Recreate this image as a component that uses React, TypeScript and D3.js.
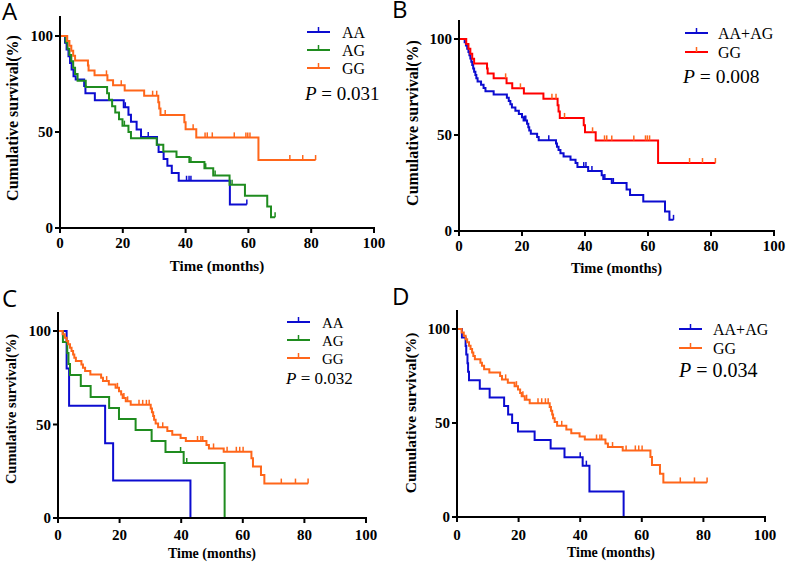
import React from 'react';
import * as d3 from 'd3';

type Step = [number, number];

// ---------- data ----------
const timeTicks = [0, 20, 40, 60, 80, 100];
const survTicks = [0, 50, 100];

// Panel A
const aAA: Step[] = [[1.6,96.5],[2.1,93.0],[2.7,89.5],[3.2,86.0],[3.7,82.5],[4.3,79.0],[5.0,77.4],[7.7,73.9],[8.1,70.2],[11.1,66.6],[20.3,62.9],[21.8,59.0],[22.6,55.3],[24.4,51.3],[25.8,47.4],[30.9,43.4],[31.4,39.6],[33.0,36.0],[34.2,32.4],[35.6,28.6],[37.8,24.6],[54.1,12.3]];
const aAACensor = [20.8, 28.1, 40.3, 41.1, 41.7, 59.5];
const aAG: Step[] = [[1.8,96.7],[2.4,93.4],[3.0,90.1],[3.6,86.8],[4.2,83.5],[4.8,80.2],[5.6,76.7],[8.2,73.5],[15.0,70.2],[15.6,66.8],[16.6,63.4],[17.6,60.1],[18.8,56.7],[19.9,53.3],[21.8,50.0],[22.6,46.7],[30.8,43.3],[32.9,39.9],[37.1,37.0],[41.2,34.4],[46.0,31.1],[48.8,27.4],[54.0,22.5],[58.9,16.8],[66.0,11.2],[67.2,5.6]];
const aAGCensor = [20.5, 41.7, 46.4, 49.4, 54.8, 68.5];
const aGG: Step[] = [[2.3,97.4],[3.0,94.9],[3.6,92.3],[4.2,89.7],[4.8,87.2],[8.9,84.6],[9.1,82.0],[11.0,79.5],[15.1,76.9],[16.9,74.3],[20.6,71.6],[26.8,68.9],[31.3,65.5],[31.6,62.2],[32.0,58.9],[39.6,55.1],[40.0,51.4],[43.4,47.2],[63.2,35.4]];
const aGGCensor = [14.8, 19.5, 29.5, 30.8, 33.5, 42.4, 46.2, 46.9, 48.5, 55.5, 59.2, 59.8, 60.5, 73.2, 77.3, 81.4];

// Panel B
const bAAAG: Step[] = [[1.8,98.3],[2.2,96.6],[2.6,94.9],[3.0,93.2],[3.3,91.5],[3.6,89.8],[3.9,88.1],[4.2,86.4],[4.5,84.7],[4.8,83.0],[5.2,81.3],[5.5,79.6],[5.9,77.9],[7.0,76.2],[7.8,74.5],[8.4,72.8],[11.0,71.1],[15.2,69.4],[15.8,67.7],[16.3,66.0],[16.8,64.3],[17.9,62.6],[19.0,60.9],[20.0,59.2],[20.5,57.5],[21.6,55.8],[22.0,54.1],[22.3,52.4],[22.8,50.7],[24.8,49.0],[25.3,47.3],[30.8,45.6],[31.1,43.9],[31.6,42.2],[32.2,40.5],[33.2,38.8],[35.4,37.1],[37.0,35.4],[37.6,33.3],[41.0,31.2],[45.3,29.0],[45.8,27.1],[48.5,25.0],[53.2,21.6],[54.3,18.8],[58.5,15.4],[65.4,10.2],[66.8,5.8]];
const bAAAGCensor = [20.8, 21.2, 28.5, 39.6, 40.3, 42.2, 46.3, 49.0, 68.1];
const bGG: Step[] = aGG;
const bGGCensor = aGGCensor;

// Panel C
const cAA: Step[] = [[2.8,80],[3.6,60],[15.3,40],[17.9,20],[43.0,0]];
const cAACensor: number[] = [];
const cAG: Step[] = [[1.6,94.1],[3.0,88.2],[3.4,82.4],[3.9,76.5],[7.4,70.6],[10.6,64.7],[16.6,58.8],[19.8,52.9],[25.2,47.1],[30.4,41.2],[34.9,35.3],[40.8,29.4],[54.1,0]];
const cAGCensor = [39.8, 41.8];
const cGG: Step[] = [[1.5,98.2],[2.2,96.4],[2.8,94.6],[3.3,92.9],[3.9,91.1],[4.4,89.3],[4.9,87.5],[5.3,85.7],[5.8,83.9],[7.6,82.1],[8.1,80.4],[8.8,78.6],[10.5,76.8],[14.0,75.0],[14.6,73.2],[16.5,71.4],[18.7,69.6],[19.8,67.8],[20.5,66.0],[21.0,64.2],[22.0,62.4],[23.6,60.5],[30.1,58.5],[30.5,56.5],[30.9,54.5],[31.2,52.5],[31.7,50.5],[32.5,48.5],[35.5,46.5],[37.1,44.5],[39.8,42.8],[41.5,41.2],[48.2,39.1],[49.0,37.2],[53.8,35.4],[62.8,31.9],[63.3,27.6],[65.9,23.0],[67.0,18.4]];
const cGGCensor = [15.8, 19.3, 21.4, 22.6, 26.3, 27.5, 28.7, 29.6, 34.0, 45.3, 46.4, 47.0, 50.5, 54.9, 57.9, 59.0, 60.1, 72.5, 77.1, 81.2];

// Panel D
const dAAAG: Step[] = [[1.6,95.5],[2.8,90.9],[3.0,86.4],[3.4,81.8],[3.6,77.3],[3.9,72.7],[7.4,68.2],[10.6,63.6],[15.3,59.1],[16.6,54.5],[17.9,50.0],[19.8,45.5],[25.2,40.9],[30.4,36.4],[34.9,31.8],[40.8,27.3],[43.0,13.6],[54.1,0]];
const dAAAGCensor = [40.0, 42.0];
const dGG: Step[] = cGG;
const dGGCensor = cGGCensor;

const pValues = ['0.031', '0.008', '0.032', '0.034'];

// ---------- styles ----------
const BLUE = '#0c0cd0';
const GREEN = '#1f8c1f';
const ORANGE = '#ff661a';
const RED = '#ff0000';
const SERIF = '"Liberation Serif", "Times New Roman", serif';

interface Curve { name: string; steps: Step[]; censors: number[]; color: string; tickColor: string; }

interface Layout {
  letter: string; letterX: number; letterY: number;
  x0: number; x100: number; y0: number; y100: number; top: number;
  xTickDy: number; tickSize: number;
  xLabelY: number; xLabelSize: number;
  yLabelX: number; yLabelCY: number; yLabelSize: number;
  legendX: number; legendY: number[]; legendTextX: number; legendSize: number;
  pX: number; pY: number; pSize: number;
}

function levelAt(steps: Step[], t: number) {
  let s = 100;
  for (const [ts, v] of steps) if (ts <= t) s = v;
  return s;
}

function Panel({ L, curves, p }: { L: Layout; curves: Curve[]; p: string }) {
  const x = d3.scaleLinear().domain([0, 100]).range([L.x0, L.x100]);
  const y = d3.scaleLinear().domain([0, 100]).range([L.y0, L.y100]);
  const line = d3.line<Step>().x(d => x(d[0])).y(d => y(d[1])).curve(d3.curveStepAfter);
  return (
    <g>
      <text x={L.letterX} y={L.letterY} fontFamily='"Open Sans", sans-serif' fontSize={24}>{L.letter}</text>
      {/* curves */}
      {curves.map((c, i) => {
        const last = c.steps[c.steps.length - 1];
        const end = Math.max(last[0], ...c.censors);
        const pts: Step[] = [[0, 100], ...c.steps];
        if (end > last[0]) pts.push([end, last[1]]);
        return (
          <g key={i}>
            <path d={line(pts) || ''} fill="none" stroke={c.color} strokeWidth={2} />
            {c.censors.map((t, j) => {
              const s = levelAt(c.steps, t);
              return <line key={j} x1={x(t)} x2={x(t)} y1={y(s)} y2={y(s) - 5} stroke={c.tickColor} strokeWidth={1.5} />;
            })}
          </g>
        );
      })}
      {/* axes */}
      <line x1={L.x0} x2={L.x0} y1={L.y0 + 1} y2={L.top} stroke="#000" strokeWidth={2} />
      <line x1={L.x0 - 1} x2={x(100) + 1} y1={L.y0} y2={L.y0} stroke="#000" strokeWidth={2} />
      {timeTicks.map(t => (
        <g key={t}>
          <line x1={x(t)} x2={x(t)} y1={L.y0} y2={L.y0 + 5} stroke="#000" strokeWidth={2} />
          <text x={x(t)} y={L.y0 + L.xTickDy} textAnchor="middle" fontFamily={SERIF} fontWeight="bold" fontSize={L.tickSize}>{t}</text>
        </g>
      ))}
      {survTicks.map(s => (
        <g key={s}>
          <line x1={L.x0 - 5} x2={L.x0} y1={y(s)} y2={y(s)} stroke="#000" strokeWidth={2} />
          <text x={L.x0 - 7} y={y(s) + 5} textAnchor="end" fontFamily={SERIF} fontWeight="bold" fontSize={L.tickSize}>{s}</text>
        </g>
      ))}
      <text x={(L.x0 + L.x100) / 2} y={L.xLabelY} textAnchor="middle" fontFamily={SERIF} fontWeight="bold" fontSize={L.xLabelSize}>Time (months)</text>
      <text transform={`translate(${L.yLabelX},${L.yLabelCY}) rotate(-90)`} textAnchor="middle" fontFamily={SERIF} fontWeight="bold" fontSize={L.yLabelSize}>Cumulative survival(%)</text>
      {/* legend */}
      {curves.map((c, i) => (
        <g key={i}>
          <line x1={L.legendX} x2={L.legendX + 23} y1={L.legendY[i]} y2={L.legendY[i]} stroke={c.color} strokeWidth={2} />
          <line x1={L.legendX + 11.5} x2={L.legendX + 11.5} y1={L.legendY[i]} y2={L.legendY[i] - 5} stroke={c.tickColor} strokeWidth={1.5} />
          <text x={L.legendTextX} y={L.legendY[i] + 5.5} fontFamily={SERIF} fontSize={L.legendSize}>{c.name}</text>
        </g>
      ))}
      <text x={L.pX} y={L.pY} fontFamily={SERIF} fontSize={L.pSize}>
        <tspan fontStyle="italic">P</tspan> = {p}
      </text>
    </g>
  );
}

const LA: Layout = { letter: 'A', letterX: 2, letterY: 20, x0: 60, x100: 374, y0: 228, y100: 36, top: 16, xTickDy: 20, tickSize: 15,
  xLabelY: 271, xLabelSize: 15, yLabelX: 18, yLabelCY: 118, yLabelSize: 16,
  legendX: 307, legendY: [32, 50, 68], legendTextX: 342, legendSize: 16, pX: 305, pY: 100, pSize: 19 };
const LB: Layout = { letter: 'B', letterX: 392, letterY: 18, x0: 459, x100: 774, y0: 231, y100: 39, top: 20, xTickDy: 20, tickSize: 15,
  xLabelY: 273, xLabelSize: 14.5, yLabelX: 418, yLabelCY: 123, yLabelSize: 16,
  legendX: 685, legendY: [33, 52], legendTextX: 718, legendSize: 16, pX: 683, pY: 83, pSize: 19.5 };
const LC: Layout = { letter: 'C', letterX: 2, letterY: 307, x0: 58, x100: 366, y0: 518, y100: 331, top: 312, xTickDy: 22, tickSize: 15,
  xLabelY: 558, xLabelSize: 14, yLabelX: 16, yLabelCY: 409, yLabelSize: 14.5,
  legendX: 287, legendY: [322, 340, 358], legendTextX: 322, legendSize: 15, pX: 286, pY: 384, pSize: 17 };
const LD: Layout = { letter: 'D', letterX: 392, letterY: 305, x0: 457, x100: 765, y0: 517, y100: 329, top: 310, xTickDy: 23, tickSize: 15,
  xLabelY: 557, xLabelSize: 14, yLabelX: 416, yLabelCY: 413, yLabelSize: 15.5,
  legendX: 679, legendY: [329, 348], legendTextX: 713, legendSize: 16, pX: 679, pY: 377, pSize: 20 };

export default function App() {
  const curvesA: Curve[] = [
    { name: 'AA', steps: aAA, censors: aAACensor, color: BLUE, tickColor: BLUE },
    { name: 'AG', steps: aAG, censors: aAGCensor, color: GREEN, tickColor: GREEN },
    { name: 'GG', steps: aGG, censors: aGGCensor, color: ORANGE, tickColor: ORANGE },
  ];
  const curvesB: Curve[] = [
    { name: 'AA+AG', steps: bAAAG, censors: bAAAGCensor, color: BLUE, tickColor: BLUE },
    { name: 'GG', steps: bGG, censors: bGGCensor, color: RED, tickColor: ORANGE },
  ];
  const curvesC: Curve[] = [
    { name: 'AA', steps: cAA, censors: cAACensor, color: BLUE, tickColor: BLUE },
    { name: 'AG', steps: cAG, censors: cAGCensor, color: GREEN, tickColor: GREEN },
    { name: 'GG', steps: cGG, censors: cGGCensor, color: ORANGE, tickColor: ORANGE },
  ];
  const curvesD: Curve[] = [
    { name: 'AA+AG', steps: dAAAG, censors: dAAAGCensor, color: BLUE, tickColor: BLUE },
    { name: 'GG', steps: dGG, censors: dGGCensor, color: ORANGE, tickColor: ORANGE },
  ];
  return (
    <svg width={787} height={565} style={{ position: 'absolute', left: 0, top: 0, background: '#fff' }}>
      <rect width={787} height={565} fill="#fff" />
      <Panel L={LA} curves={curvesA} p={pValues[0]} />
      <Panel L={LB} curves={curvesB} p={pValues[1]} />
      <Panel L={LC} curves={curvesC} p={pValues[2]} />
      <Panel L={LD} curves={curvesD} p={pValues[3]} />
    </svg>
  );
}
